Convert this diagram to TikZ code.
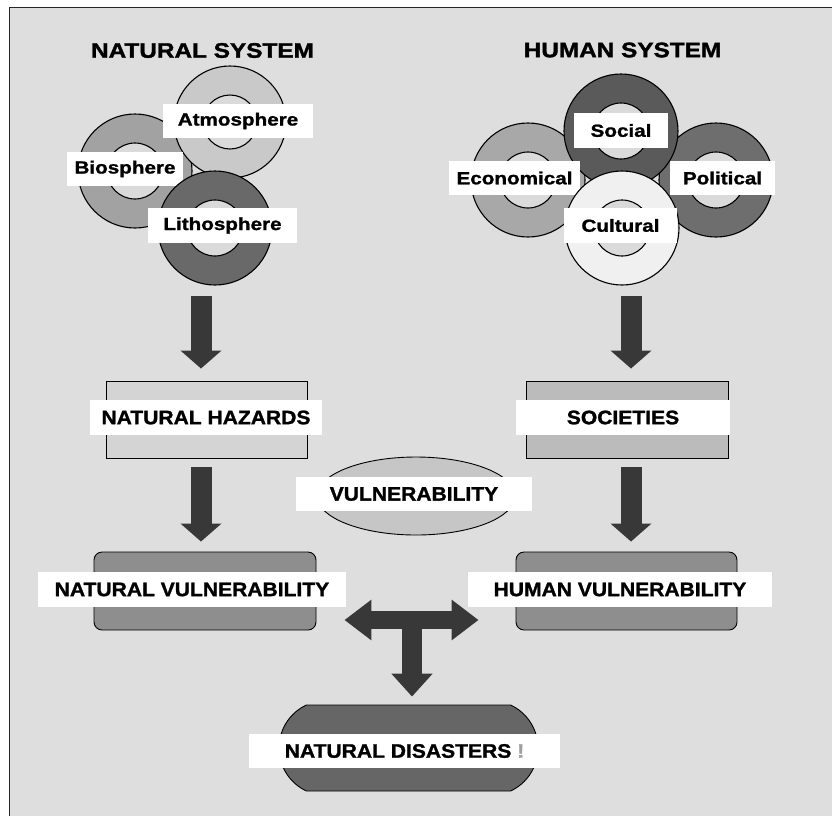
\documentclass[tikz,border=0pt]{standalone}
\usepackage{fontspec}
\setmainfont{Liberation Sans}
\newfontfamily\titlefont[FakeStretch=1.16, BoldFeatures={FakeBold=1.6}]{Liberation Sans}
\newfontfamily\ringfont[FakeStretch=1.18, BoldFeatures={FakeBold=1.3}]{Liberation Sans}
\newfontfamily\boxfont[FakeStretch=1.08, BoldFeatures={FakeBold=1.3}]{Liberation Sans}
\usetikzlibrary{arrows.meta,calc,shapes.geometric,shapes.misc}
\definecolor{panel}{HTML}{DEDEDE}
\definecolor{holegray}{HTML}{DADADA}
\definecolor{arrowgray}{HTML}{383838}
\definecolor{atmoring}{HTML}{C9C9C9}
\definecolor{bioring}{HTML}{A2A2A2}
\definecolor{lithoring}{HTML}{696969}
\definecolor{econring}{HTML}{A8A8A8}
\definecolor{socring}{HTML}{5A5A5A}
\definecolor{polring}{HTML}{6E6E6E}
\definecolor{cultring}{HTML}{F0F0F0}
\definecolor{hazfill}{HTML}{D4D4D4}
\definecolor{socfill}{HTML}{BBBBBB}
\definecolor{vulnfill}{HTML}{C6C6C6}
\definecolor{vulfill}{HTML}{8E8E8E}
\definecolor{disfill}{HTML}{666666}

\begin{document}
\begin{tikzpicture}[x=1pt,y=-1pt,
	ring/.style={circle, draw, line width=1.1pt, minimum size=114pt, inner sep=0pt},
	hole/.style={circle, draw, line width=1.1pt, fill=holegray, minimum size=56pt, inner sep=0pt},
	ringlabel/.style={fill=white, inner sep=0pt, minimum height=34pt, font=\ringfont\bfseries\fontsize{17.5}{18}\selectfont},
	boxlabel/.style={fill=white, inner sep=0pt, minimum height=35pt, font=\boxfont\bfseries\fontsize{19.5}{20}\selectfont},
	title/.style={inner sep=0pt, font=\titlefont\bfseries\fontsize{21}{22}\selectfont},
	panelbox/.style={draw, line width=0.9pt, inner sep=0pt},
	bigarrow/.style={draw=arrowgray, line width=21pt, -{Triangle[width=40pt,length=18pt]}},
	twoway/.style={draw=arrowgray, line width=18pt, {Triangle[width=39pt,length=27pt]}-{Triangle[width=39pt,length=27pt]}}]
	\useasboundingbox (0,0) rectangle (832,815);
	\fill[white] (0,0) rectangle (832,815);
	\draw[line width=1.5pt, draw=black!85, fill=panel] (9.5,7.5) rectangle (850,830);

	\node[title] (natsys) at (202.5,50.5) {NATURAL SYSTEM};
	\node[title] (humsys) at (622.5,50) {HUMAN SYSTEM};

	% natural system
	\node[ring, fill=bioring] (bio) at (135,171) {};
	\node[hole] (biohole) at (bio) {};
	\node[ring, fill=atmoring, minimum size=112pt] (atmo) at (230,122) {};
	\node[hole, minimum size=54pt] (atmohole) at (atmo) {};
	\node[ringlabel, minimum width=150pt] (atmolbl) at (238,121) {Atmosphere};
	\node[ringlabel, minimum width=116pt] (biolbl) at (125,169) {Biosphere};
	\node[ring, fill=lithoring] (litho) at (215,228) {};
	\node[hole] (lithohole) at (litho) {};
	\node[ringlabel, minimum width=149pt, minimum height=35pt] (litholbl) at (222.5,225.5) {Lithosphere};

	% human system
	\node[ring, fill=econring] (econ) at (528,180) {};
	\node[hole] (econhole) at (econ) {};
	\node[ring, fill=polring] (pol) at (716,180) {};
	\node[hole] (polhole) at (pol) {};
	\node[ring, fill=socring] (soc) at (621,131) {};
	\node[hole] (sochole) at (soc) {};
	\node[ringlabel, minimum width=94pt, minimum height=35pt] (soclbl) at (621,130.5) {Social};
	\node[ringlabel, minimum width=131pt] (econlbl) at (514.5,178) {Economical};
	\node[ringlabel, minimum width=105pt] (pollbl) at (722.5,178) {Political};
	\node[ring, fill=cultring] (cult) at (622,228) {};
	\node[hole] (culthole) at (cult) {};
	\node[ringlabel, minimum width=113pt, minimum height=35pt] (cultlbl) at (620.5,225.5) {Cultural};

	\node[panelbox, fill=hazfill, minimum width=201pt, minimum height=77pt] (hazards) at (206.5,419.5) {};
	\node[boxlabel, minimum width=232pt] (hazardslbl) at (206,417.5) {NATURAL HAZARDS};
	\node[panelbox, fill=socfill, minimum width=202pt, minimum height=77pt] (societies) at (627,419.5) {};
	\node[boxlabel, minimum width=214pt] (societieslbl) at (623,417.5) {SOCIETIES};
	\node[panelbox, ellipse, fill=vulnfill, minimum width=198pt, minimum height=78pt] (vulnerability) at (416,496) {};
	\node[boxlabel, minimum width=236pt, minimum height=34pt] (vulnerabilitylbl) at (414,494) {VULNERABILITY};
	\node[panelbox, rounded corners=8pt, fill=vulfill, minimum width=222pt, minimum height=78pt] (natvul) at (205,591) {};
	\node[boxlabel, minimum width=308pt] (natvullbl) at (192,589.5) {NATURAL VULNERABILITY};
	\node[panelbox, rounded corners=8pt, fill=vulfill, minimum width=221pt, minimum height=78pt] (humvul) at (626.5,591) {};
	\node[boxlabel, minimum width=304pt] (humvullbl) at (620,589.5) {HUMAN VULNERABILITY};
	\node[panelbox, rounded rectangle, rounded rectangle arc length=130, fill=disfill, minimum width=259pt, minimum height=86pt] (disasters) at (408.5,748) {};
	\node[boxlabel, minimum width=311pt, minimum height=34pt] (disasterslbl) at (404.5,751) {NATURAL DISASTERS {\color{gray!75}!}};

	\draw[bigarrow] ($(litho.south)+(-14,10)$) -- ($(hazards.north)+(-5.5,-12)$);
	\draw[bigarrow] ($(cult.south)+(9,10)$) -- ($(societies.north)+(4,-12)$);
	\draw[bigarrow] ($(hazards.south)+(-5.5,9)$) -- ($(natvul.north)+(-4,-10)$);
	\draw[bigarrow] ($(societies.south)+(4,9)$) -- ($(humvul.north)+(4.5,-10)$);
	\coordinate (tee) at (412,620);
	\draw[twoway] ($(natvul.east)+(28,29)$) -- ($(humvul.west)+(-37,29)$);
	\draw[bigarrow, line width=20pt, -{Triangle[width=40pt,length=23pt]}] (tee) -- ($(disasters.north)+(3.5,-8)$);
\end{tikzpicture}
\end{document}
